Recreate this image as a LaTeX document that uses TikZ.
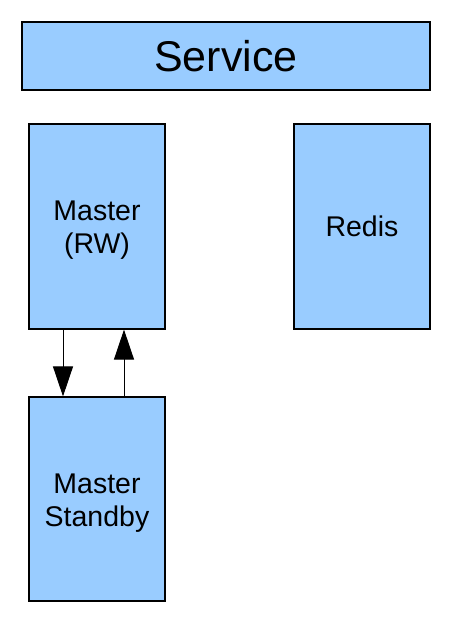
\documentclass[tikz,border=0pt]{standalone}
\usepackage{fontspec}
\setmainfont{Liberation Sans}
\usetikzlibrary{arrows.meta}
\definecolor{boxblue}{HTML}{99CCFF}
\newcommand{\twolines}[2]{\raisebox{-4pt}[\height][\depth]{\begin{tabular}{@{}c@{}}#1\\#2\end{tabular}}}
\begin{document}
\begin{tikzpicture}[x=1pt,y=-1pt,
  box/.style={draw=black,line width=1.2pt,fill=boxblue,inner sep=0pt,align=center,font=\fontsize{28.5}{33}\selectfont},
  link/.style={line width=1pt,-{Triangle[width=20pt,length=30pt]}}]
\useasboundingbox (0,0) rectangle (466,632);
\node[box,minimum width=408pt,minimum height=68pt,font=\fontsize{43}{48}\selectfont] (service) at (226,56) {Service};
\node[box,minimum width=136pt,minimum height=205pt] (master) at (97,226.5) {\twolines{Master}{(RW)}};
\node[box,minimum width=136pt,minimum height=205pt] (redis) at (362,226.5) {Redis};
\node[box,minimum width=136pt,minimum height=204pt] (standby) at (97,499) {\twolines{Master}{Standby}};
\draw[link] (master.south -| 63,0) -- (standby.north -| 63,0);
\draw[link] (standby.north -| 124,0) -- (master.south -| 124,0);
\end{tikzpicture}
\end{document}
